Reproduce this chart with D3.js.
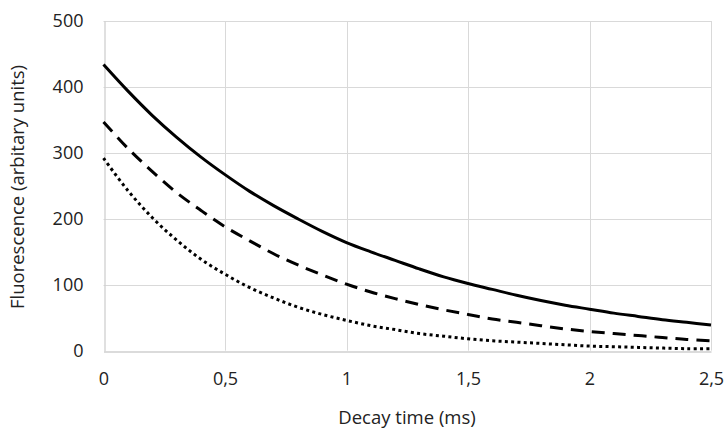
<!DOCTYPE html>
<html>
<head>
<meta charset="utf-8">
<script src="https://cdn.jsdelivr.net/npm/d3@7"></script>
<style>
  html, body { margin: 0; padding: 0; background: #fff; }
  svg { display: block; }
  text { font-family: "Open Sans", sans-serif; fill: #222; }
</style>
</head>
<body>
<svg id="chart" width="724" height="430"></svg>
<script>
// Decay time samples (ms)
const decayTime = [0, 0.1, 0.2, 0.3, 0.4, 0.5, 0.6, 0.7, 0.8, 0.9, 1.0, 1.1, 1.2,
                   1.3, 1.4, 1.5, 1.6, 1.7, 1.8, 1.9, 2.0, 2.1, 2.2, 2.3, 2.4, 2.5];

// Fluorescence intensity (arbitrary units) for the three measurements
const solidSeries  = [434, 394, 357, 324, 294, 267, 242, 220, 200, 181, 164, 150, 137,
                      124, 112, 102, 93, 84, 76, 69, 63, 57, 52, 47, 43, 39];
const dashedSeries = [347, 307, 272, 240, 213, 188, 167, 147, 130, 115, 101, 89, 79,
                      70, 62, 55, 48, 43, 38, 33, 29, 26, 23, 20, 17, 15];
const dottedSeries = [292, 243, 202, 168, 139, 116, 96, 80, 66, 55, 46, 38, 32,
                      26, 22, 18, 15, 13, 11, 9, 7, 6, 5, 4, 3, 3];

const xTicks = [0, 0.5, 1, 1.5, 2, 2.5];
const yTicks = [0, 100, 200, 300, 400, 500];

const xTitle = "Decay time (ms)";
const yTitle = "Fluorescence (arbitary units)";

const svg = d3.select("#chart");

const x = d3.scaleLinear().domain([0, 2.5]).range([103.5, 711]);
const y = d3.scaleLinear().domain([0, 500]).range([350.7, 21]);

const fmt = d => String(d).replace(".", ",");

// Horizontal gridlines
svg.append("g")
  .selectAll("line")
  .data(yTicks.filter(d => d > 0))
  .join("line")
  .attr("x1", x.range()[0]).attr("x2", x.range()[1])
  .attr("y1", d => Math.round(y(d)) + 0.5).attr("y2", d => Math.round(y(d)) + 0.5)
  .attr("stroke", "#d9d9d9").attr("stroke-width", 1);

// Vertical gridlines
svg.append("g")
  .selectAll("line")
  .data(xTicks.filter(d => d > 0))
  .join("line")
  .attr("x1", d => Math.round(x(d)) + 0.5).attr("x2", d => Math.round(x(d)) + 0.5)
  .attr("y1", y.range()[0]).attr("y2", y.range()[1])
  .attr("stroke", "#d9d9d9").attr("stroke-width", 1);

// X axis
const xAxis = svg.append("g")
  .attr("transform", `translate(0,${Math.round(y(0)) + 0.5})`)
  .call(d3.axisBottom(x).tickValues(xTicks).tickFormat(fmt).tickSize(0).tickPadding(21));
xAxis.select(".domain").attr("stroke", "#cfcfcf").attr("stroke-width", 1.3);
xAxis.selectAll("text").attr("font-size", 18).attr("font-family", "Open Sans").attr("fill", "#222");

// Y axis
const yAxis = svg.append("g")
  .attr("transform", `translate(${Math.round(x(0)) + 0.5},0)`)
  .call(d3.axisLeft(y).tickValues(yTicks).tickFormat(d3.format("d")).tickSize(0).tickPadding(21));
yAxis.select(".domain").attr("stroke", "#cfcfcf").attr("stroke-width", 1.3);
yAxis.selectAll("text").attr("font-size", 18).attr("font-family", "Open Sans").attr("fill", "#222");

// Series lines, smoothed
const line = d3.line()
  .x((d, i) => x(decayTime[i]))
  .y(d => y(d))
  .curve(d3.curveCatmullRom.alpha(0.5));

const series = [
  { values: solidSeries,  dash: null },
  { values: dashedSeries, dash: "13,8" },
  { values: dottedSeries, dash: "3,3.3" }
];

svg.append("g")
  .selectAll("path")
  .data(series)
  .join("path")
  .attr("d", d => line(d.values))
  .attr("fill", "none")
  .attr("stroke", "#000")
  .attr("stroke-width", 3)
  .attr("stroke-dasharray", d => d.dash);

// Axis titles
svg.append("text")
  .attr("x", 407).attr("y", 424)
  .attr("text-anchor", "middle")
  .attr("font-size", 18.5)
  .text(xTitle);

svg.append("text")
  .attr("transform", "translate(24,187) rotate(-90)")
  .attr("text-anchor", "middle")
  .attr("font-size", 18.5)
  .text(yTitle);
</script>
</body>
</html>
